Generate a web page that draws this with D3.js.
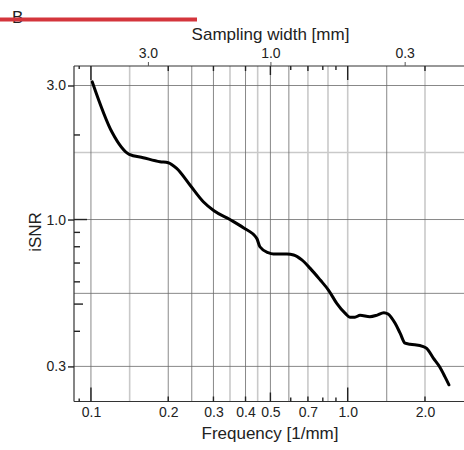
<!DOCTYPE html>
<html>
<head>
<meta charset="utf-8">
<script src="https://cdn.jsdelivr.net/npm/d3@7"></script>
<style>
  html, body { margin: 0; padding: 0; background: #fff; }
  svg { display: block; font-family: "Liberation Sans", Arial, sans-serif; }
</style>
</head>
<body>
<svg id="chart" width="464" height="450"></svg>
<script>
// ---- data ----
const frequency = [0.1012, 0.121, 0.141, 0.1598, 0.1857, 0.2, 0.2157, 0.243, 0.2739, 0.3014, 0.3478, 0.3924, 0.4423, 0.455, 0.49, 0.5135, 0.5799, 0.6157, 0.6628, 0.7144, 0.7818, 0.8414, 0.9066, 0.9763, 1.0206, 1.067, 1.117, 1.22, 1.296, 1.383, 1.436, 1.53, 1.6, 1.672, 1.75, 1.97, 2.03, 2.155, 2.28, 2.39, 2.48];
const isnr = [3.09, 2.04, 1.706, 1.66, 1.606, 1.593, 1.52, 1.327, 1.157, 1.075, 1.0, 0.935, 0.857, 0.8, 0.762, 0.754, 0.754, 0.748, 0.718, 0.67, 0.609, 0.561, 0.503, 0.464, 0.449, 0.449, 0.456, 0.451, 0.456, 0.466, 0.461, 0.427, 0.394, 0.363, 0.36, 0.353, 0.348, 0.321, 0.299, 0.276, 0.258];

const xTickLabels = [0.1, 0.2, 0.3, 0.4, 0.5, 0.7, 1.0, 2.0];
const xTicksLong = [0.1, 1.0];
const xTicksMid = [0.5];
const xTicksShort = [0.2, 0.3, 0.4, 0.7, 2.0];
const xTicksTiny = [0.6, 0.8, 0.9];
const xTicksMini = [0.09];

const topTickLabels = [3.0, 1.0, 0.3]; // sampling width [mm], f = 1/(2w)

const yTickLabels = [3.0, 1.0, 0.3];
const yTicksLong = [1.0];
const yTicksMid = [0.5];
const yTicksShort = [2.0, 0.4, 0.6, 0.7, 0.8, 0.9];

const xGridDark = [0.1, 0.2, 0.247, 0.3, 0.4, 0.5, 0.59, 1.419];
const xGridLight = [0.1415, 0.348, 0.446, 0.7, 0.838, 1.0, 2.0];
const yGridDark = [3.0, 1.0, 0.546, 0.3];
const yGridLight = [1.732];

// ---- layout ----
const L = 74, R = 470.2, T = 66, B = 401.5;
const FONT = "Liberation Sans, Arial, sans-serif";
const svg = d3.select("#chart");

const x = d3.scaleLog().domain([0.0859, 3.0]).range([L, R]);
const y = d3.scaleLog().domain([0.225, 3.52]).range([B, T]);
const widthToFreq = w => 1 / (2 * w);

svg.append("clipPath").attr("id", "clip").append("rect")
  .attr("x", L).attr("y", T).attr("width", R - L).attr("height", B - T);

const plot = svg.append("g");
const grid = plot.append("g").attr("clip-path", "url(#clip)");
grid.selectAll(".gxl").data(xGridLight).join("line")
  .attr("x1", d => x(d)).attr("x2", d => x(d)).attr("y1", T).attr("y2", B)
  .attr("stroke", "#c9c9c9").attr("stroke-width", 1.6);
grid.selectAll(".gyl").data(yGridLight).join("line")
  .attr("y1", d => y(d)).attr("y2", d => y(d)).attr("x1", L).attr("x2", R)
  .attr("stroke", "#c9c9c9").attr("stroke-width", 1.6);
grid.selectAll(".gxd").data(xGridDark).join("line")
  .attr("x1", d => x(d)).attr("x2", d => x(d)).attr("y1", T).attr("y2", B)
  .attr("stroke", "#6a6a6a").attr("stroke-width", 0.8);
grid.selectAll(".gyd").data(yGridDark).join("line")
  .attr("y1", d => y(d)).attr("y2", d => y(d)).attr("x1", L).attr("x2", R)
  .attr("stroke", "#6a6a6a").attr("stroke-width", 0.8);

// frame (no right edge visible)
plot.append("line").attr("x1", L).attr("x2", L).attr("y1", T).attr("y2", B).attr("stroke", "#333").attr("stroke-width", 1.2);
plot.append("line").attr("x1", L).attr("x2", R).attr("y1", B).attr("y2", B).attr("stroke", "#333").attr("stroke-width", 1.2);
plot.append("line").attr("x1", L).attr("x2", R).attr("y1", T).attr("y2", T).attr("stroke", "#333").attr("stroke-width", 1.2);

// x ticks (bottom inward and mirrored at top)
function xTicks(vals, len) {
  plot.append("g").selectAll("line").data(vals).join("line")
    .attr("x1", d => x(d)).attr("x2", d => x(d)).attr("y1", B).attr("y2", B - len)
    .attr("stroke", "#222").attr("stroke-width", 1.4);
  plot.append("g").selectAll("line").data(vals).join("line")
    .attr("x1", d => x(d)).attr("x2", d => x(d)).attr("y1", T).attr("y2", T + len)
    .attr("stroke", "#222").attr("stroke-width", 1.4);
}
xTicks(xTicksLong, 14);
xTicks(xTicksMid, 9);
xTicks(xTicksShort, 5);
xTicks(xTicksTiny, 4);
xTicks(xTicksMini, 3);

// bottom tick labels via axis
const xAxis = d3.axisBottom(x).tickValues(xTickLabels).tickSize(0).tickPadding(6)
  .tickFormat(d3.format(".1f"));
const gx = svg.append("g").attr("transform", `translate(0,${B})`).call(xAxis);
gx.select(".domain").remove();
gx.selectAll("text").attr("font-size", 14).attr("fill", "#222").attr("font-family", FONT);

// top axis (sampling width)
const topAxis = d3.axisTop(x).tickValues(topTickLabels.map(widthToFreq)).tickSize(4).tickPadding(4)
  .tickFormat((d, i) => d3.format(".1f")(topTickLabels[i]));
const gt = svg.append("g").attr("transform", `translate(0,${T})`).call(topAxis);
gt.select(".domain").remove();
gt.selectAll("line").attr("stroke", "#555").attr("stroke-width", 1);
gt.selectAll("text").attr("font-size", 14).attr("fill", "#222").attr("font-family", FONT);

// y axis labels
const yAxis = d3.axisLeft(y).tickValues(yTickLabels).tickSize(6).tickPadding(2)
  .tickFormat(d3.format(".1f"));
const gy = svg.append("g").attr("transform", `translate(${L},0)`).call(yAxis);
gy.select(".domain").remove();
gy.selectAll("line").attr("stroke", "#222").attr("stroke-width", 1.4);
gy.selectAll("text").attr("font-size", 14).attr("fill", "#222").attr("font-family", FONT);

function yTicks(vals, len) {
  plot.append("g").selectAll("line").data(vals).join("line")
    .attr("y1", d => y(d)).attr("y2", d => y(d)).attr("x1", L).attr("x2", L + len)
    .attr("stroke", "#222").attr("stroke-width", 1.4);
}
yTicks(yTicksLong, 13);
yTicks(yTicksMid, 9);
yTicks(yTicksShort, 6);

// data line
const line = d3.line().x((d, i) => x(frequency[i])).y((d, i) => y(isnr[i])).curve(d3.curveMonotoneX);
plot.append("path").datum(isnr).attr("d", line)
  .attr("fill", "none").attr("stroke", "#000").attr("stroke-width", 3)
  .attr("stroke-linejoin", "round").attr("stroke-linecap", "round");

// titles
svg.append("text").attr("x", 270).attr("y", 439)
  .attr("text-anchor", "middle").attr("font-size", 17).attr("fill", "#222")
  .text("Frequency [1/mm]");
svg.append("text").attr("x", 270.5).attr("y", 40)
  .attr("text-anchor", "middle").attr("font-size", 17).attr("fill", "#222")
  .text("Sampling width [mm]");
svg.append("text").attr("transform", `translate(41,232) rotate(-90)`)
  .attr("text-anchor", "middle").attr("font-size", 17).attr("fill", "#222")
  .text("iSNR");

// panel letter and red bar
svg.append("text").attr("x", 12).attr("y", 23).attr("font-size", 17).attr("fill", "#222").text("B");
svg.append("rect").attr("x", 0).attr("y", 17.5).attr("width", 197).attr("height", 4).attr("fill", "#d4353c");
</script>
</body>
</html>
